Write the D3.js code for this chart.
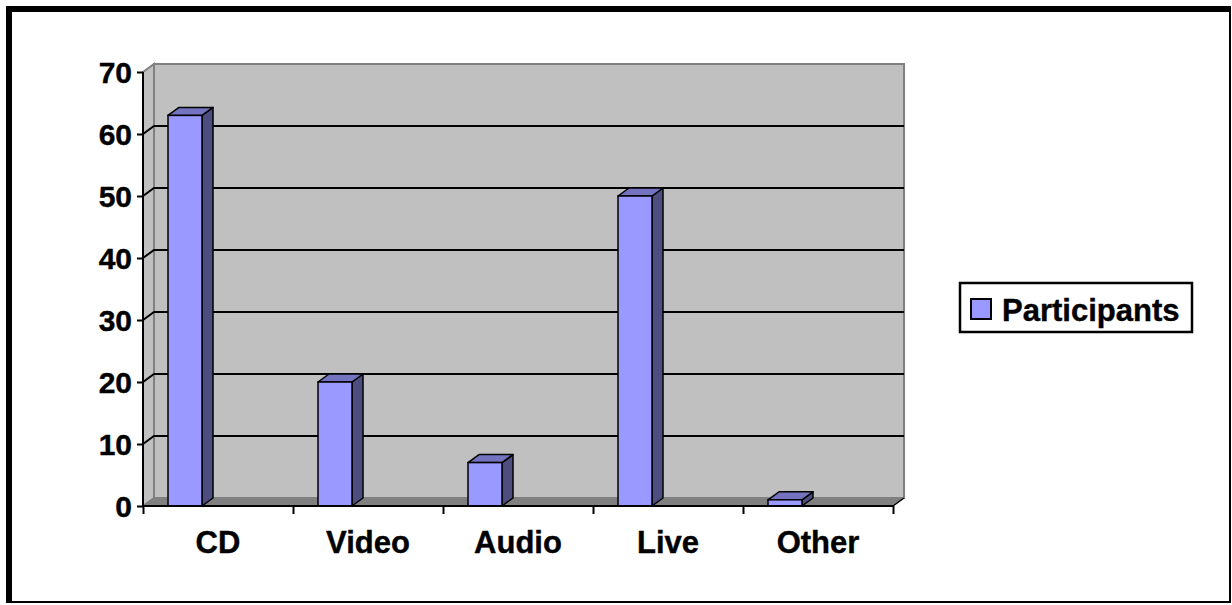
<!DOCTYPE html>
<html>
<head>
<meta charset="utf-8">
<script src="https://cdn.jsdelivr.net/npm/d3@7"></script>
<style>
html, body { margin: 0; padding: 0; background: #fff; }
svg { display: block; }
text { font-family: "Liberation Sans", Arial, sans-serif; font-weight: bold; }
</style>
</head>
<body>
<svg id="chart" width="1232" height="605"></svg>
<script>
const categories = ["CD", "Video", "Audio", "Live", "Other"];
const participants = [63, 20, 7, 50, 1];
const yTicks = [0, 10, 20, 30, 40, 50, 60, 70];
const seriesName = "Participants";

(function () {
const svg = d3.select("#chart");

// outer frame
svg.append("rect").attr("x", 6).attr("y", 6).attr("width", 1225).attr("height", 597).attr("fill", "#000");
svg.append("rect").attr("x", 12).attr("y", 12).attr("width", 1217).attr("height", 589).attr("fill", "#fff");

const pLeft = 143, pRight = 893, pTop = 72, pBottom = 506;
const dx = 11, dy = -8;

const x = d3.scaleBand().domain(categories).range([pLeft, pRight]).padding(0);
const xb = d3.scaleLinear().domain([0, categories.length]).range([pLeft, pRight]);
const y = d3.scaleLinear().domain([0, 70]).range([pBottom, pTop]);

const g = svg.append("g");
const pts = p => p.map(d => d.join(",")).join(" ");

// back wall
g.append("polygon")
  .attr("points", pts([[pLeft + dx, pTop + dy], [pRight + dx, pTop + dy], [pRight + dx, pBottom + dy], [pLeft + dx, pBottom + dy]]))
  .attr("fill", "#c0c0c0").attr("stroke", "#808080").attr("stroke-width", 2);
// left wall
g.append("polygon")
  .attr("points", pts([[pLeft, pTop], [pLeft + dx, pTop + dy], [pLeft + dx, pBottom + dy], [pLeft, pBottom]]))
  .attr("fill", "#c0c0c0").attr("stroke", "#808080").attr("stroke-width", 2);
// floor
g.append("polygon")
  .attr("points", pts([[pLeft, pBottom], [pLeft + dx, pBottom + dy], [pRight + dx, pBottom + dy], [pRight, pBottom]]))
  .attr("fill", "#808080").attr("stroke", "#808080").attr("stroke-width", 1);

// gridlines
const grid = yTicks.filter(t => t > 0 && t < 70);
g.selectAll(".grid").data(grid).join("path")
  .attr("class", "grid")
  .attr("d", t => `M${pLeft},${y(t)}L${pLeft + dx},${y(t) + dy}L${pRight + dx},${y(t) + dy}`)
  .attr("fill", "none").attr("stroke", "#000").attr("stroke-width", 2);

// floor right edge
g.append("line").attr("x1", pRight).attr("y1", pBottom).attr("x2", pRight + dx).attr("y2", pBottom + dy)
  .attr("stroke", "#000").attr("stroke-width", 1.5);

// bars
const bw = x.bandwidth();
const barOff = bw * 25 / 150, barW = bw * 34 / 150;
const bars = g.selectAll(".bar").data(categories.map((c, i) => ({ c, v: participants[i] }))).join("g").attr("class", "bar");
bars.append("polygon") // side
  .attr("points", d => {
    const x1 = x(d.c) + barOff + barW;
    return pts([[x1, y(d.v)], [x1 + dx, y(d.v) + dy], [x1 + dx, y(0) + dy], [x1, y(0)]]);
  })
  .attr("fill", "#4d4d80").attr("stroke", "#000").attr("stroke-width", 1.5).attr("stroke-linejoin", "round");
bars.append("polygon") // top
  .attr("points", d => {
    const x0 = x(d.c) + barOff, x1 = x0 + barW;
    return pts([[x0, y(d.v)], [x0 + dx, y(d.v) + dy], [x1 + dx, y(d.v) + dy], [x1, y(d.v)]]);
  })
  .attr("fill", "#7373c0").attr("stroke", "#000").attr("stroke-width", 1.5).attr("stroke-linejoin", "round");
bars.append("rect") // front
  .attr("x", d => x(d.c) + barOff)
  .attr("y", d => y(d.v))
  .attr("width", barW)
  .attr("height", d => y(0) - y(d.v))
  .attr("fill", "#9999ff").attr("stroke", "#000").attr("stroke-width", 1.5);

// y axis
const yAxis = svg.append("g").attr("transform", `translate(${pLeft},0)`)
  .call(d3.axisLeft(y).tickValues(yTicks).tickSize(6).tickPadding(5).tickFormat(d3.format("d")));
yAxis.select(".domain").attr("stroke", "#000").attr("stroke-width", 2).attr("d", `M0,${pTop}V${pBottom}`);
yAxis.selectAll(".tick line").attr("stroke", "#000").attr("stroke-width", 2);
yAxis.selectAll("text").attr("font-size", 30).attr("fill", "#000").attr("dy", "0.36em")
  .attr("stroke", "#000").attr("stroke-width", 0.4);

// x axis
const xAxis = svg.append("g").attr("transform", `translate(0,${pBottom})`)
  .call(d3.axisBottom(xb).tickValues(d3.range(categories.length + 1)).tickSize(8).tickFormat(""));
xAxis.select(".domain").attr("stroke", "#000").attr("stroke-width", 2).attr("d", `M${pLeft},0H${pRight}`);
xAxis.selectAll(".tick line").attr("stroke", "#000").attr("stroke-width", 2);
svg.append("g").selectAll("text").data(categories).join("text")
  .attr("x", d => x(d) + bw / 2).attr("y", 553)
  .attr("text-anchor", "middle").attr("font-size", 31).attr("fill", "#000")
  .attr("stroke", "#000").attr("stroke-width", 0.4)
  .text(d => d);

// legend
const lg = svg.append("g");
lg.append("rect").attr("x", 960).attr("y", 283).attr("width", 232).attr("height", 49)
  .attr("fill", "#fff").attr("stroke", "#000").attr("stroke-width", 2.5);
lg.append("rect").attr("x", 971).attr("y", 299).attr("width", 20).attr("height", 20)
  .attr("fill", "#9999ff").attr("stroke", "#000").attr("stroke-width", 2);
lg.append("text").attr("x", 1002).attr("y", 321).attr("font-size", 31).attr("fill", "#000")
  .attr("stroke", "#000").attr("stroke-width", 0.4).text(seriesName);
})();
</script>
</body>
</html>
